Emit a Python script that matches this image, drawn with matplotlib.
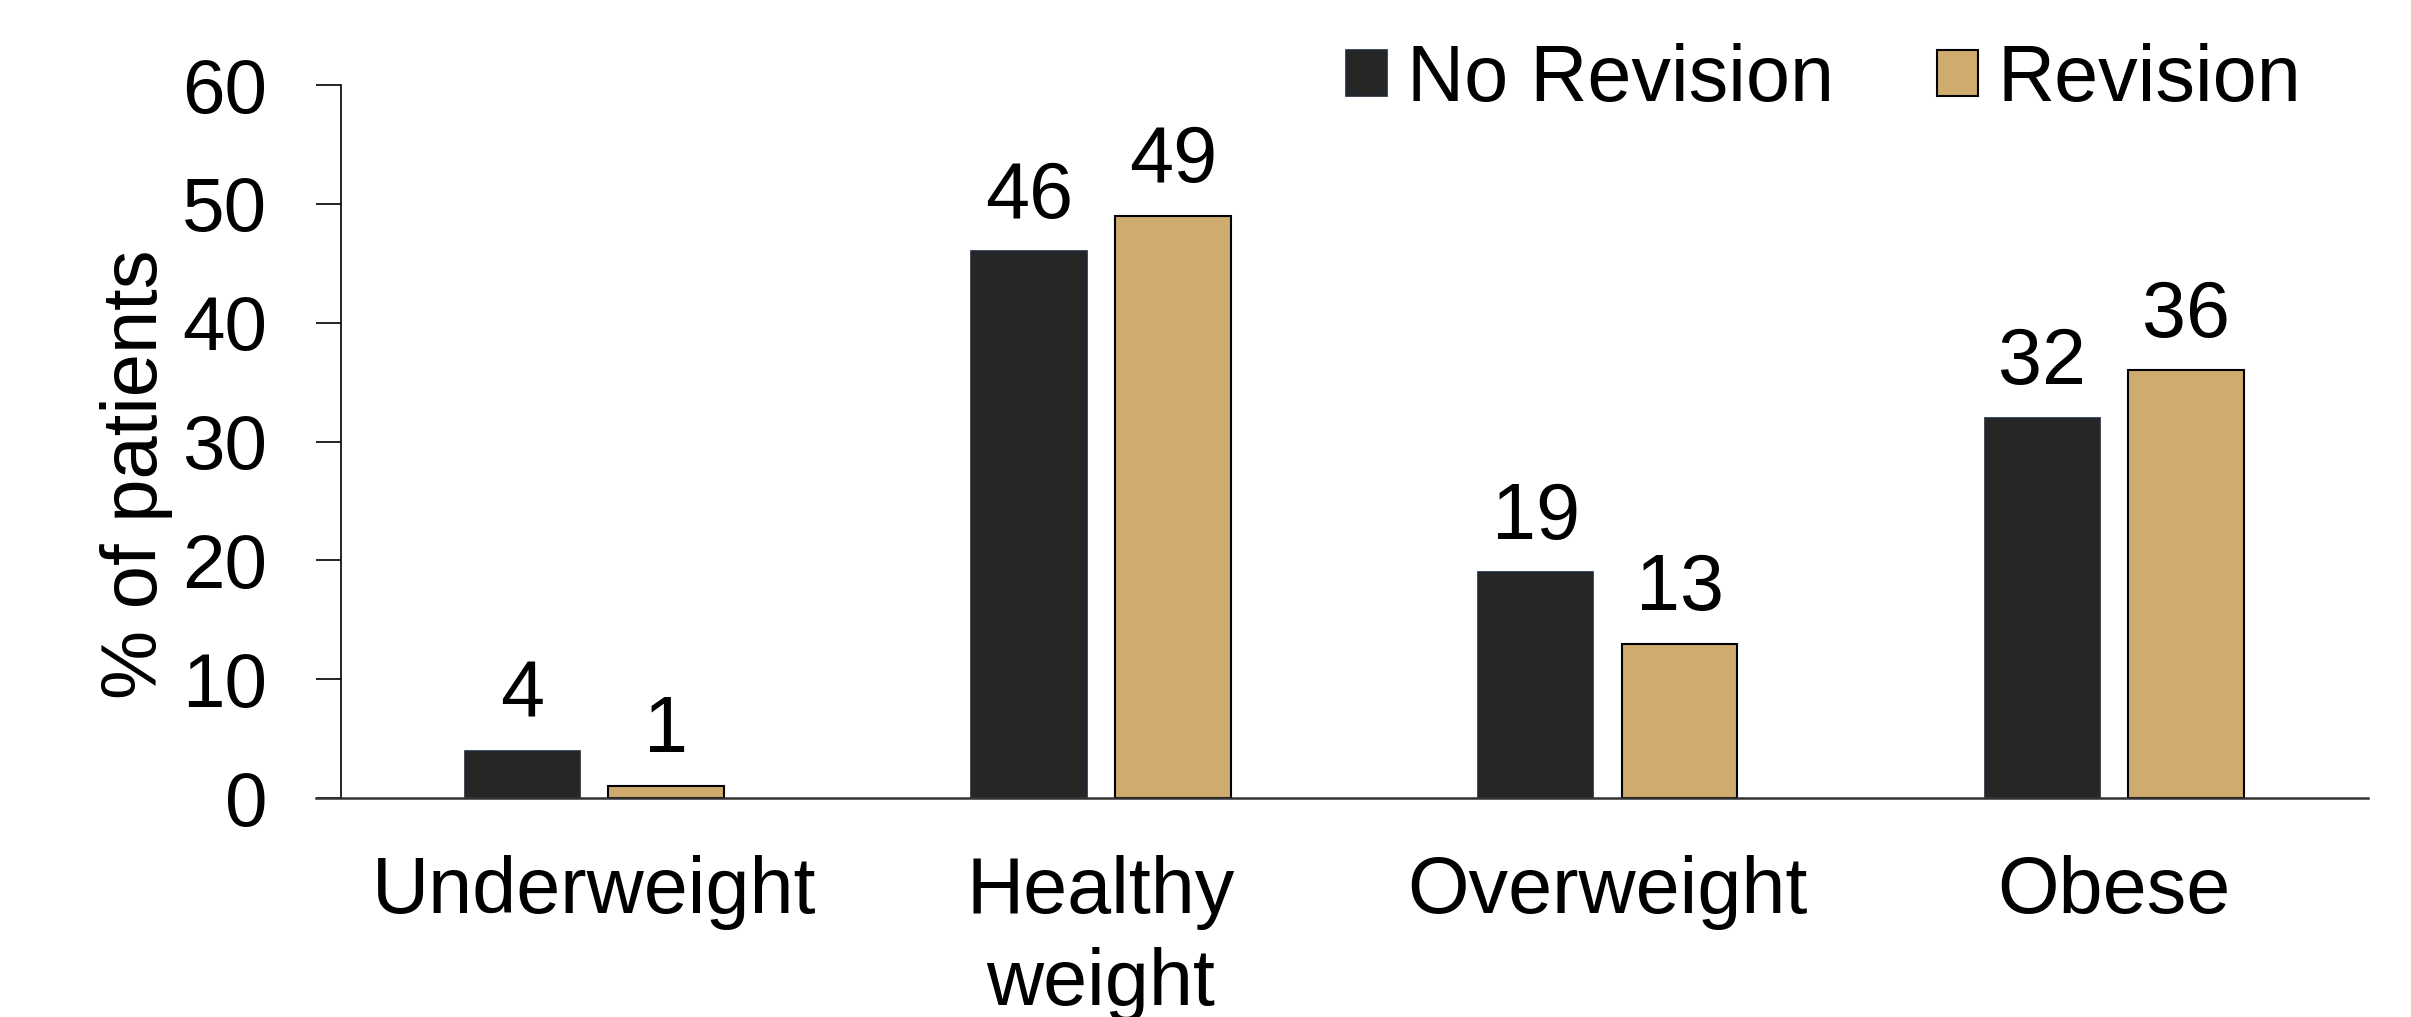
import matplotlib
matplotlib.use('Agg')
import matplotlib.pyplot as plt
import numpy as np

categories = ['Underweight', 'Healthy\nweight', 'Overweight', 'Obese']
no_revision = [4, 46, 19, 32]
revision = [1, 49, 13, 36]
series_names = ['No Revision', 'Revision']

plt.rcParams['font.family'] = ['Liberation Sans', 'DejaVu Sans']
FS = 57

fig = plt.figure(figsize=(24.11, 10.17), dpi=100)
ax = fig.add_axes([0.1414, 0.2153, 0.8406, 0.7011])

x = np.arange(len(categories))
w = 0.228
off = 0.142
b1 = ax.bar(x - off, no_revision, w, color='#262626', edgecolor='#1f2a3a', linewidth=1.2, label=series_names[0])
b2 = ax.bar(x + off, revision, w, color='#cfab6e', edgecolor='black', linewidth=1.5, label=series_names[1])

for bars, vals in [(b1, no_revision), (b2, revision)]:
    for r, v in zip(bars, vals):
        ax.annotate(str(v), (r.get_x() + r.get_width() / 2, v), xytext=(0, 12),
                    textcoords='offset points', ha='center', va='bottom', fontsize=FS)

ax.set_xlim(-0.5, 3.5)
ax.set_ylim(0, 60)
ax.set_yticks(range(0, 61, 10))
ax.set_xticks(x)
ax.set_xticklabels(categories, fontsize=FS, linespacing=1.3, va='top')
ax.tick_params(axis='x', length=0, pad=41)
ax.tick_params(axis='y', labelsize=55, length=18, width=1.2, pad=35)

ax.spines['top'].set_visible(False)
ax.spines['right'].set_visible(False)
ax.spines['left'].set_linewidth(1.2)
ax.spines['bottom'].set_linewidth(1.8)
ax.spines['bottom'].set_bounds(-0.549, 3.5)
ax.spines['bottom'].set_color('#333333')

ax.set_ylabel('% of patients', fontsize=56)
ax.yaxis.set_label_coords(-0.083, 0.454)

ax.legend(loc='center right', bbox_to_anchor=(0.971, 0.921), bbox_transform=fig.transFigure,
          frameon=False, fontsize=FS, handlelength=0.52, handleheight=0.52,
          handletextpad=0.25, columnspacing=1.3, ncol=2, borderpad=0)

fig.savefig('out.png', dpi=100)
